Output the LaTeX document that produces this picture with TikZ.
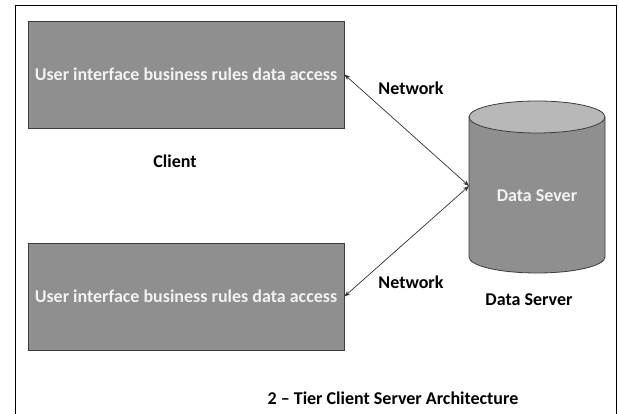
\documentclass[tikz,border=0pt]{standalone}
\usepackage{fontspec}
\setmainfont{Carlito}
\usetikzlibrary{arrows.meta}
\definecolor{boxgray}{RGB}{143,143,143}
\definecolor{topgray}{RGB}{184,184,184}
\definecolor{edgegray}{RGB}{60,60,60}
\definecolor{paletext}{RGB}{242,242,242}
\begin{document}
\begin{tikzpicture}[x=1pt,y=1pt,
  tierbox/.style={draw=edgegray,line width=0.8pt,fill=boxgray,minimum width=316pt,minimum height=107pt,inner sep=0pt,text=paletext,font=\bfseries\fontsize{18}{21}\selectfont},
  lbl/.style={text=black,inner sep=1pt,font=\bfseries\fontsize{18}{21}\selectfont},
  link/.style={draw=black!80,line width=0.7pt,{Stealth[length=6pt,width=4.5pt]}-{Stealth[length=6pt,width=4.5pt]}}]
\useasboundingbox (0,0) rectangle (619,414);
\fill[white] (0,0) rectangle (619,414);
\draw[line width=1pt] (15,-2) -- (15,408) -- (616,408) -- (616,-2);
% client boxes
\node[tierbox] (top) at (186,339.5) {User interface business rules data access};
\node[tierbox] (bot) at (186,117.5) {User interface business rules data access};
\node[lbl] (client) at (175,253) {Client};
% cylinder
\fill[boxgray] (469,297) -- (469,157) arc[start angle=180,end angle=360,x radius=68,y radius=16] -- (605,297) -- cycle;
\draw[edgegray,line width=0.8pt] (469,297) -- (469,157) arc[start angle=180,end angle=360,x radius=68,y radius=16] -- (605,297);
\draw[edgegray,line width=0.8pt,fill=topgray] (537,297) ellipse[x radius=68,y radius=16];
\node[lbl,text=paletext] (srv) at (537,218) {Data Sever};
\coordinate (srvport) at (469,228);
\node[lbl] (srvlbl) at (529,114) {Data Server};
% links
\draw[link] (top.east) -- (srvport);
\draw[link] (bot.east) -- (srvport);
\node[lbl] (net1) at (411,326) {Network};
\node[lbl] (net2) at (411,132) {Network};
\node[lbl] (title) at (393,16) {2 – Tier Client Server Architecture};
\end{tikzpicture}
\end{document}
